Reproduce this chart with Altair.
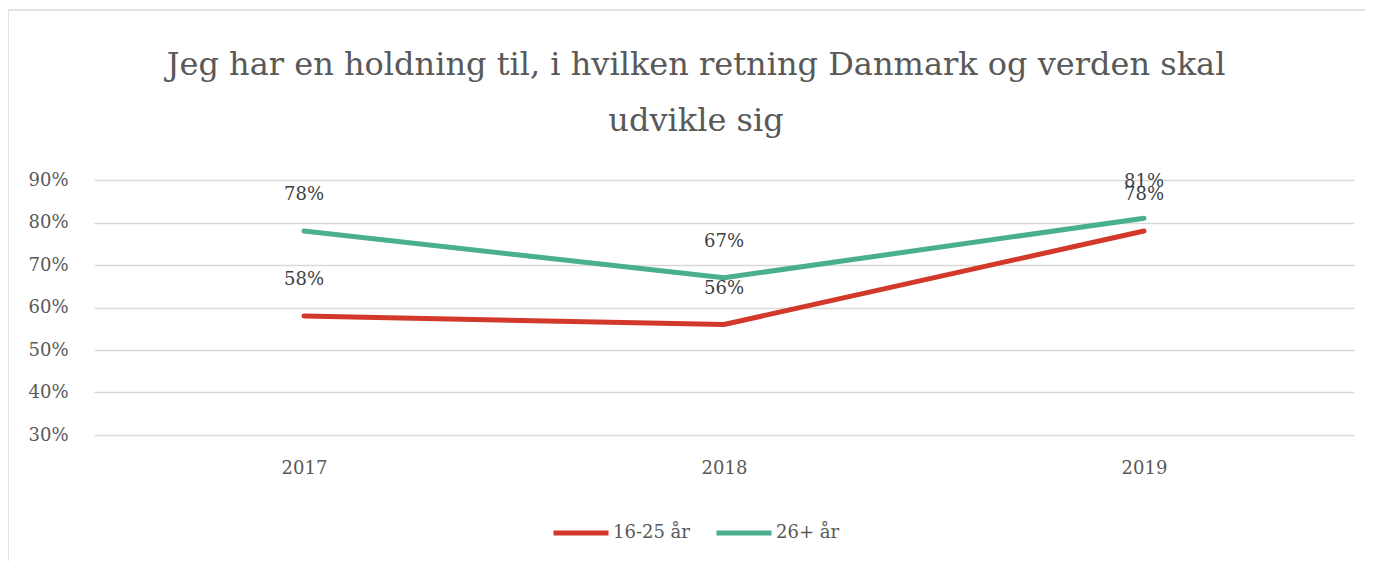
import altair as alt
import pandas as pd

years = ["2017", "2018", "2019"]
series_names = ["16-25 år", "26+ år"]
young = [0.58, 0.56, 0.78]
older = [0.78, 0.67, 0.81]
colors = ["#d2392a", "#4aaf8e"]
title_lines = ["Jeg har en holdning til, i hvilken retning Danmark og verden skal", "udvikle sig"]

rows = []
for name, vals in zip(series_names, [young, older]):
    for y, v in zip(years, vals):
        rows.append({"year": y, "serie": name, "value": v})
df = pd.DataFrame(rows)
title_df = pd.DataFrame({"line": title_lines, "dy": [-105, -49]})

FONT = "DejaVu Serif"
W, H = 1260, 255

x = alt.X("year:N", sort=years, title=None,
          scale=alt.Scale(type="point", padding=0.5),
          axis=alt.Axis(labelAngle=0, domain=False, ticks=False, grid=False,
                        labelPadding=24, labelFontSize=18, labelFont=FONT,
                        labelColor="#595959"))
y = alt.Y("value:Q", title=None,
          scale=alt.Scale(domain=[0.3, 0.9], nice=False, zero=False),
          axis=alt.Axis(values=[0.3, 0.4, 0.5, 0.6, 0.7, 0.8, 0.9], format=".0%",
                        domain=False, ticks=False, grid=True, gridColor="#d9d9d9",
                        gridWidth=1.5, labelPadding=26, labelFontSize=18,
                        labelFont=FONT, labelColor="#595959"))
color = alt.Color("serie:N", sort=series_names,
                  scale=alt.Scale(domain=series_names, range=colors),
                  legend=alt.Legend(title=None, orient="none", direction="horizontal",
                                    legendX=457, legendY=323, symbolType="stroke",
                                    symbolSize=3025, symbolStrokeWidth=5,
                                    labelFontSize=18, labelFont=FONT,
                                    labelColor="#595959", labelOffset=2,
                                    columnPadding=16, padding=0))

border = alt.Chart(pd.DataFrame({"a": [0]})).mark_rect(
    fillOpacity=0, stroke="#d9d9d9", strokeWidth=1.5
).encode(x=alt.value(-86), x2=alt.value(W + 200), y=alt.value(-170), y2=alt.value(H + 300))

title = alt.Chart(title_df).mark_text(
    fontSize=32, font=FONT, color="#595959", align="center", baseline="alphabetic"
).encode(x=alt.value(602), y=alt.Y("dy:Q", scale=None), text="line:N")

lines = alt.Chart(df).mark_line(strokeWidth=5, strokeCap="round", strokeJoin="round").encode(
    x=x, y=y, color=color, detail="serie:N")

labels = alt.Chart(df).mark_text(dy=-36, fontSize=18, font=FONT, color="#404040").encode(
    x=alt.X("year:N", sort=years), y="value:Q",
    text=alt.Text("value:Q", format=".0%"))

chart = alt.layer(border, title, lines, labels).properties(
    width=W, height=H,
    autosize=alt.AutoSizeParams(type="none"),
    padding={"left": 86, "top": 172, "right": 11, "bottom": 126},
).configure(background="white").configure_view(stroke=None)

chart.save("out.html", embed_options={"renderer": "svg", "actions": False})
